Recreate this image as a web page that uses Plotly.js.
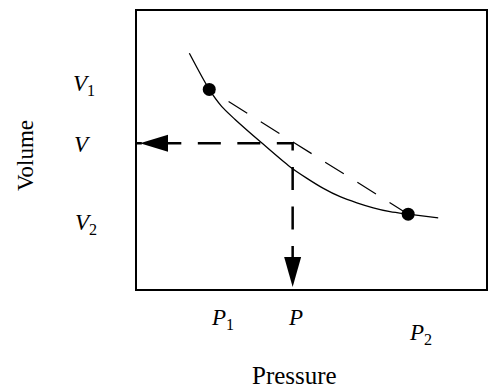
<!DOCTYPE html>
<html>
<head>
<meta charset="utf-8">
<script src="https://cdn.plot.ly/plotly-3.0.1.min.js"></script>
<style>html,body{margin:0;padding:0;background:#fff}</style>
</head>
<body>
<div id="grafico" style="width:488px;height:389px"></div>
<script>
// Curva V(P) (unidades arbitrarias 0-10)
const presion = [1.50, 2.07, 2.43, 2.81, 3.57, 4.38, 4.86, 5.34, 5.82, 6.30, 6.77, 7.25, 7.77, 8.63];
const volumen = [8.48, 7.18, 6.56, 6.10, 5.26, 4.40, 3.99, 3.62, 3.32, 3.10, 2.92, 2.78, 2.69, 2.56];

// Puntos medidos (P1,V1) y (P2,V2)
const puntosP = [2.07, 7.77];
const puntosV = [7.18, 2.69];

// Punto interpolado
const P = 4.46;
const V = 5.24;

const rangoX = [0, 10];
const rangoY = [0, 10];

// Etiquetas
const valoresV = [puntosV[0], V, puntosV[1]];
const etiquetasV = ['<i>V</i><sub>1</sub>', '<i>V</i>', '<i>V</i><sub>2</sub>'];
const valoresP = [puntosP[0], P, puntosP[1]];
const etiquetasP = ['<i>P</i><sub>1</sub>', '<i>P</i>', '<i>P</i><sub>2</sub>'];

const fuente = 'Liberation Serif, Times New Roman, serif';

const curva = {
    x: presion,
    y: volumen,
    mode: 'lines',
    line: { color: 'black', width: 1.3, shape: 'spline', smoothing: 0.8 },
    hoverinfo: 'skip',
};

// Cuerda discontinua entre los dos puntos (de P2 a P1)
const cuerda = {
    x: [puntosP[1], puntosP[0]],
    y: [puntosV[1], puntosV[0]],
    mode: 'lines',
    line: { color: 'black', width: 1.2, dash: '22px,16px' },
    hoverinfo: 'skip',
};

// Líneas guía: desde el eje P sube hasta (P,V) y va al eje V
const patronGuia = '0px,20px,' + Array(8).fill('23px,16.5px').join(',');
const guia = {
    x: [P, P, rangoX[0]],
    y: [rangoY[0], V, V],
    mode: 'lines',
    line: { color: 'black', width: 2.5, dash: patronGuia },
    hoverinfo: 'skip',
};

const puntos = {
    x: puntosP,
    y: puntosV,
    mode: 'markers',
    marker: { color: 'black', size: 13 },
    hoverinfo: 'skip',
};

// Puntas de flecha (en píxeles, ancladas a los ejes)
const flechas = [
    { xanchor: rangoX[0], yanchor: V, path: 'M3,0L31,8.5L31,-8.5Z' },
    { xanchor: P, yanchor: rangoY[0], path: 'M0,2L8.5,32L-8.5,32Z' },
].map(f => ({
    type: 'path', xref: 'x', yref: 'y',
    xsizemode: 'pixel', ysizemode: 'pixel',
    xanchor: f.xanchor, yanchor: f.yanchor, path: f.path,
    fillcolor: 'black', line: { width: 0 },
}));

const ajusteV = [{ dx: -40, dy: 4 }, { dx: -44, dy: -1 }, { dx: -38, dy: -10 }];
const ajusteP = [{ dx: 13, dy: -30 }, { dx: 3, dy: -28 }, { dx: 12, dy: -45 }];

const notas = [];
valoresV.forEach((v, i) => notas.push({
    xref: 'paper', yref: 'y', x: 0, y: v,
    xanchor: 'right', yanchor: 'middle',
    xshift: ajusteV[i].dx, yshift: ajusteV[i].dy,
    text: etiquetasV[i], showarrow: false,
    font: { family: fuente, size: 23, color: 'black' },
}));
valoresP.forEach((p, i) => notas.push({
    xref: 'x', yref: 'paper', x: p, y: 0,
    xanchor: 'center', yanchor: 'middle',
    xshift: ajusteP[i].dx, yshift: ajusteP[i].dy,
    text: etiquetasP[i], showarrow: false,
    font: { family: fuente, size: 23, color: 'black' },
}));
notas.push({
    xref: 'paper', yref: 'paper', x: 0.45, y: 0,
    xanchor: 'center', yanchor: 'middle', yshift: -86,
    text: 'Pressure', showarrow: false,
    font: { family: fuente, size: 25, color: 'black' },
});
notas.push({
    xref: 'paper', yref: 'paper', x: 0, y: 0.478,
    xanchor: 'center', yanchor: 'middle', xshift: -112,
    text: 'Volume', textangle: -90, showarrow: false,
    font: { family: fuente, size: 23, color: 'black' },
});

const ejeComun = {
    showline: true, mirror: true, linewidth: 2, linecolor: 'black',
    showgrid: false, zeroline: false, showticklabels: false, ticks: '',
    fixedrange: true,
};

const layout = {
    width: 488,
    height: 389,
    margin: { l: 137, r: 2, t: 11, b: 100 },
    xaxis: Object.assign({ range: rangoX }, ejeComun),
    yaxis: Object.assign({ range: rangoY }, ejeComun),
    showlegend: false,
    paper_bgcolor: 'white',
    plot_bgcolor: 'white',
    font: { family: fuente, color: 'black' },
    shapes: flechas,
    annotations: notas,
};

Plotly.newPlot('grafico', [curva, cuerda, guia, puntos], layout, { displayModeBar: false, staticPlot: true });
</script>
</body>
</html>
